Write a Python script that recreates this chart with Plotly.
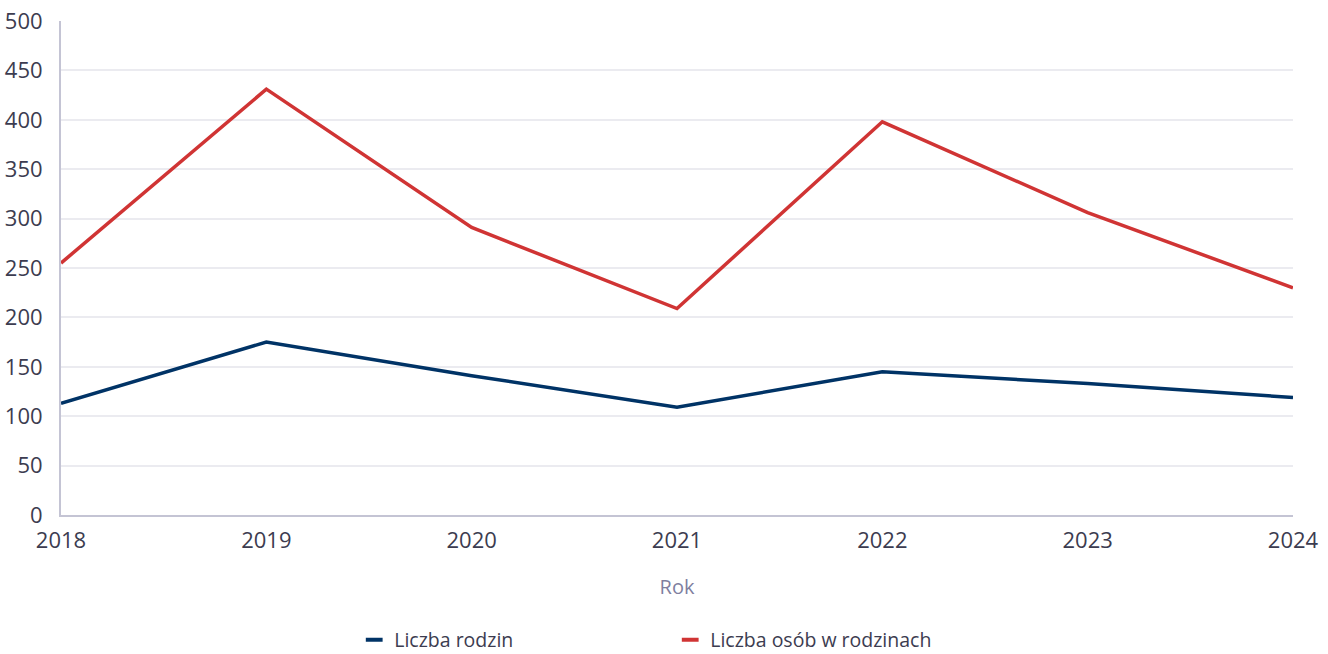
import plotly.graph_objects as go

years = [2018, 2019, 2020, 2021, 2022, 2023, 2024]
rodziny = [113, 175, 141, 109, 145, 133, 119]
osoby = [255, 431, 291, 209, 398, 306, 230]
names = ["Liczba rodzin", "Liczba osób w rodzinach"]
colors = ["#003366", "#d03434"]

fig = go.Figure()
for vals, name, col in zip([rodziny, osoby], names, colors):
    fig.add_trace(go.Scatter(x=years, y=vals, mode="lines", name=name,
                             line=dict(color=col, width=3.5), showlegend=False,
                             legendgroup=name))
    fig.add_trace(go.Scatter(x=[None], y=[None], mode="markers", name=name,
                             marker=dict(symbol="line-ew", size=12,
                                         line=dict(color=col, width=4)),
                             showlegend=True, legendgroup=name))

fig.update_layout(
    width=1328, height=654,
    margin=dict(l=61, r=35, t=21, b=139, autoexpand=False),
    paper_bgcolor="white", plot_bgcolor="white",
    font=dict(family="Open Sans", size=20, color="#3c3c50"),
    xaxis=dict(range=[2018, 2024], tickmode="array", tickvals=years,
               ticktext=[str(y) for y in years], showgrid=False,
               showline=True, linecolor="#c4c4d4", linewidth=2,
               ticks="", ticklen=0, zeroline=False, automargin=False,
               tickfont=dict(size=22),
               title=dict(text="Rok", font=dict(size=20, color="#7f7f9f"), standoff=27)),
    yaxis=dict(range=[0, 500], dtick=50, showgrid=True, gridcolor="#ebebf0",
               gridwidth=2, showline=True, linecolor="#c4c4d4", linewidth=2,
               zeroline=False, ticks="", ticklen=0, automargin=False,
               tickfont=dict(size=22)),
    legend=dict(orientation="h", x=0.238, xanchor="left", y=-0.253, yanchor="middle",
                entrywidth=271, entrywidthmode="pixels", itemwidth=30,
                font=dict(size=19.5, color="#3c3c50"), tracegroupgap=0),
)
fig.update_yaxes(ticklabelstandoff=12)
fig.update_xaxes(ticklabelstandoff=5)

fig.write_html("out.html", config={"displayModeBar": False},
               post_script="document.body.style.margin='0';document.body.style.overflow='hidden';")
